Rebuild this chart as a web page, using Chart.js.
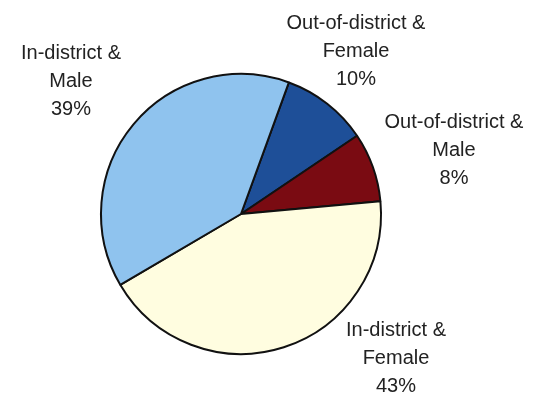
<!DOCTYPE html>
<html>
<head>
<meta charset="utf-8">
<script src="https://cdn.jsdelivr.net/npm/chart.js@4"></script>
<style>
  html, body { margin: 0; padding: 0; background: #fff; }
  #wrap { width: 537px; height: 397px; }
</style>
</head>
<body>
<div id="wrap"><canvas id="pie"></canvas></div>
<script>
// Student mix by residency and gender (percent)
const categories = ['Out-of-district & Female', 'Out-of-district & Male', 'In-district & Female', 'In-district & Male'];
const shares = [10, 8, 43, 39];
const sliceColors = ['#1e4f98', '#7a0b12', '#fffde0', '#8fc3ee'];

// label anchors, offset from the pie centre (px)
const labelOffsets = [[115, -163], [213, -64], [155, 144], [-170, -133]];

const sliceLabels = {
  id: 'sliceLabels',
  afterDraw(chart, args, opts) {
    const ctx = chart.ctx;
    const arc = chart.getDatasetMeta(0).data[0];
    const cx = arc.x, cy = arc.y;
    const values = chart.data.datasets[0].data;
    const total = values.reduce((a, b) => a + b, 0);
    ctx.save();
    ctx.font = opts.font;
    ctx.fillStyle = opts.color;
    ctx.textAlign = 'center';
    ctx.textBaseline = 'middle';
    chart.data.labels.forEach((label, i) => {
      const parts = label.split('& ');
      const lines = [parts[0] + '&', parts[1], Math.round(values[i] / total * 100) + '%'];
      const [dx, dy] = opts.offsets[i];
      lines.forEach((line, j) => {
        ctx.fillText(line, cx + dx, cy + dy + (j - 1) * opts.lineHeight);
      });
    });
    ctx.restore();
  }
};

new Chart(document.getElementById('pie'), {
  type: 'pie',
  data: {
    labels: categories,
    datasets: [{
      data: shares,
      backgroundColor: sliceColors,
      borderColor: '#111',
      borderWidth: 2
    }]
  },
  options: {
    responsive: true,
    maintainAspectRatio: false,
    animation: false,
    rotation: 20,
    layout: { padding: { left: 100, right: 155, top: 73, bottom: 42 } },
    plugins: {
      legend: { display: false },
      tooltip: { enabled: false },
      sliceLabels: {
        offsets: labelOffsets,
        font: '20px "Liberation Sans", Arial, sans-serif',
        color: '#222',
        lineHeight: 28
      }
    }
  },
  plugins: [sliceLabels]
});
</script>
</body>
</html>
